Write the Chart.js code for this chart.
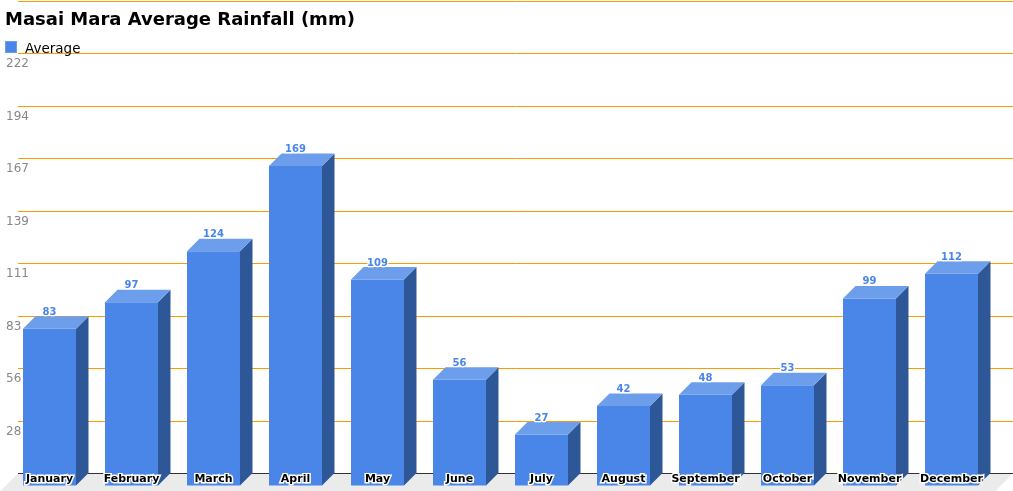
<!DOCTYPE html>
<html lang="en">
<head>
<meta charset="utf-8">
<title>Masai Mara Average Rainfall (mm)</title>
<script src="https://cdn.jsdelivr.net/npm/chart.js@4.4.1/dist/chart.umd.min.js"></script>
<style>
    html, body { margin: 0; padding: 0; background: #fff; }
    #wrap { position: relative; width: 1013px; height: 491px; overflow: hidden; }
    #grafico { position: absolute; left: 0; top: 0; }
    #titulo {
        position: absolute; left: 5px; top: 8px; z-index: 2;
        font: bold 18px "DejaVu Sans", Verdana, sans-serif; line-height: 22px;
        color: #000; white-space: nowrap;
    }
    #legenda {
        position: absolute; left: 5px; top: 40px; z-index: 2;
        font: 13.5px "DejaVu Sans", Verdana, sans-serif; line-height: 16px;
        color: #000; white-space: nowrap;
    }
    #legenda .caixa {
        position: absolute; left: 0; top: 1px; width: 10px; height: 10px;
        background: #4a86e8; border: 1px solid #6d9eeb;
    }
    #legenda .texto { position: absolute; left: 20px; top: 0; }
</style>
</head>
<body>
<div id="wrap">
    <canvas id="grafico"></canvas>
    <div id="titulo"></div>
    <div id="legenda"><span class="caixa"></span><span class="texto"></span></div>
</div>
<script>
// Dados do gráfico
const tituloGrafico = 'Masai Mara Average Rainfall (mm)';
const rotuloSerie = 'Average';
const meses = ['January', 'February', 'March', 'April', 'May', 'June',
               'July', 'August', 'September', 'October', 'November', 'December'];
const chuvaMedia = [83, 97, 124, 169, 109, 56, 27, 42, 48, 53, 99, 112];
const eixoMin = 0;
const eixoMax = 250;
const numeroTicks = 10;

// Profundidade do efeito 3D (px)
const profX = 12.5;
const profY = 12.5;

const corFrente = '#4a86e8';
const corLado = '#2e5797';
const corTopo = '#6d9eeb';
const corGrade = '#ff9900';

document.getElementById('titulo').textContent = tituloGrafico;
document.querySelector('#legenda .texto').textContent = rotuloSerie;

// Plugin que desenha chão, grade e as faces 3D das barras
const barras3d = {
    id: 'barras3d',
    beforeDatasetsDraw(chart) {
        const { ctx, chartArea, scales: { y } } = chart;
        const esquerda = chartArea.left - 3;
        const direita = chart.width;
        const base = Math.round(y.getPixelForValue(eixoMin)) + 0.5;

        ctx.save();
        // chão
        ctx.fillStyle = '#ebebeb';
        ctx.beginPath();
        ctx.moveTo(esquerda, base);
        ctx.lineTo(direita, base);
        ctx.lineTo(direita - (chart.height - base), chart.height);
        ctx.lineTo(esquerda - (chart.height - base), chart.height);
        ctx.closePath();
        ctx.fill();

        // linhas de grade (mesmos valores dos ticks do eixo y)
        ctx.lineWidth = 1;
        ctx.strokeStyle = corGrade;
        const passo = (eixoMax - eixoMin) / (numeroTicks - 1);
        for (let k = 1; k < numeroTicks; k++) {
            const py = Math.max(0.5, Math.round(y.getPixelForValue(eixoMin + k * passo)) + 0.5);
            ctx.beginPath();
            ctx.moveTo(esquerda, py);
            ctx.lineTo(direita, py);
            ctx.stroke();
        }

        // eixo
        ctx.strokeStyle = '#333';
        ctx.beginPath();
        ctx.moveTo(esquerda, base);
        ctx.lineTo(direita, base);
        ctx.stroke();
        ctx.restore();

        // a face da frente é desenhada deslocada
        ctx.save();
        ctx.translate(-profX, profY);
    },
    afterDatasetsDraw(chart) {
        const { ctx } = chart;
        ctx.restore();

        const meta = chart.getDatasetMeta(0);
        meta.data.forEach((barra, i) => {
            const { x, y, base, width } = barra.getProps(['x', 'y', 'base', 'width'], true);
            const x1 = x - width / 2 - profX;
            const x2 = x + width / 2 - profX;
            const topo = y + profY;
            const fundo = base + profY;

            ctx.save();
            // lado
            ctx.fillStyle = corLado;
            ctx.beginPath();
            ctx.moveTo(x2, topo);
            ctx.lineTo(x2 + profX, topo - profY);
            ctx.lineTo(x2 + profX, fundo - profY);
            ctx.lineTo(x2, fundo);
            ctx.closePath();
            ctx.fill();

            // topo
            ctx.fillStyle = corTopo;
            ctx.beginPath();
            ctx.moveTo(x1, topo);
            ctx.lineTo(x1 + profX, topo - profY);
            ctx.lineTo(x2 + profX, topo - profY);
            ctx.lineTo(x2, topo);
            ctx.closePath();
            ctx.fill();

            // rótulo do valor
            ctx.font = 'bold 10px "DejaVu Sans", Verdana, sans-serif';
            ctx.textAlign = 'center';
            ctx.textBaseline = 'middle';
            ctx.lineJoin = 'round';
            ctx.lineWidth = 2.5;
            ctx.strokeStyle = '#fff';
            const texto = String(chuvaMedia[i]);
            ctx.strokeText(texto, x - profX, y - 4);
            ctx.fillStyle = corFrente;
            ctx.fillText(texto, x - profX, y - 4);
            ctx.restore();
        });
    }
};

const ctx = document.getElementById('grafico');
new Chart(ctx, {
    type: 'bar',
    data: {
        labels: meses,
        datasets: [{
            label: rotuloSerie,
            data: chuvaMedia,
            backgroundColor: corFrente,
            borderWidth: 0,
            categoryPercentage: 1,
            barPercentage: 0.646,
            clip: false
        }]
    },
    options: {
        responsive: true,
        maintainAspectRatio: false,
        animation: false,
        layout: { padding: { left: 6, right: 8, top: 0.5, bottom: 0 } },
        plugins: {
            legend: { display: false },
            title: { display: false },
            tooltip: { enabled: false }
        },
        scales: {
            x: {
                grid: { display: false, drawTicks: false },
                border: { display: false },
                ticks: {
                    z: 1,
                    autoSkip: false,
                    maxRotation: 0,
                    padding: 0,
                    labelOffset: -profX,
                    color: '#000',
                    textStrokeColor: '#fff',
                    textStrokeWidth: 3,
                    font: { family: '"DejaVu Sans", Verdana, sans-serif', size: 11, weight: 'bold' }
                },
                afterFit(scale) { scale.height = 18; }
            },
            y: {
                min: eixoMin,
                max: eixoMax,
                grid: { display: false, drawTicks: false },
                border: { display: false },
                ticks: {
                    count: numeroTicks,
                    autoSkip: false,
                    mirror: true,
                    crossAlign: 'near',
                    padding: -15,
                    labelOffset: 11,
                    color: '#888',
                    font: { family: '"DejaVu Sans", Verdana, sans-serif', size: 12 },
                    callback: (valor) => (valor <= 0 || valor >= eixoMax - 0.01) ? null : Math.round(valor)
                },
                afterFit(scale) { scale.width = 15; }
            }
        }
    },
    plugins: [barras3d]
});
</script>
</body>
</html>
